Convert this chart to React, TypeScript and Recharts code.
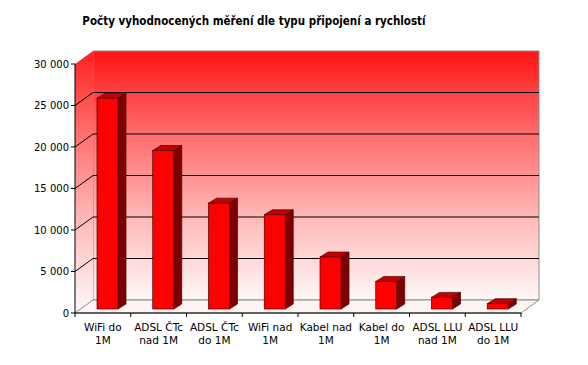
import { BarChart, Bar, XAxis, YAxis, CartesianGrid } from 'recharts';

const categories = [
  'WiFi do\n1M',
  'ADSL ČTc\nnad 1M',
  'ADSL ČTc\ndo 1M',
  'WiFi nad\n1M',
  'Kabel nad\n1M',
  'Kabel do\n1M',
  'ADSL LLU\nnad 1M',
  'ADSL LLU\ndo 1M',
];
const counts = [25400, 19100, 12750, 11350, 6260, 3320, 1400, 640];
const yTicks = [0, 5000, 10000, 15000, 20000, 25000, 30000];

const data = categories.map((name, i) => ({ name, count: counts[i] }));

// layout / 3d look
const W = 588;
const H = 365;
const LEFT = 75;
const RIGHT = 67;
const TOP = 64;
const BOTTOM = 52;
const PLOT_W = W - LEFT - RIGHT;
const BAND = PLOT_W / categories.length;
const DX = 18; // wall depth
const DY = -13;
const FX = 5; // bar front offset into depth
const FY = -4;
const BX = 8; // bar depth
const BY = -5;
const FONT = '"DejaVu Sans", Verdana, sans-serif';

const fmt = (v: number) => String(v).replace(/\B(?=(\d{3})+(?!\d))/g, ' ');

// walls + floor, drawn once from the grid's plot area
const Walls = (p: any) => {
  if (p.index !== 0) return <g key={p.key} />;
  const x = p.x ?? LEFT;
  const y = p.y ?? TOP;
  const w = p.width ?? PLOT_W;
  const h = p.height ?? H - TOP - BOTTOM;
  const b = y + h;
  return (
    <g key={p.key}>
      <defs>
        <linearGradient id="wallGrad" x1="0" y1="0" x2="0" y2="1">
          <stop offset="0%" stopColor="#ff1414" />
          <stop offset="30%" stopColor="#ff6464" />
          <stop offset="65%" stopColor="#ffb4b4" />
          <stop offset="100%" stopColor="#fff8f8" />
        </linearGradient>
        <linearGradient id="sideGrad" x1="0" y1="0" x2="0" y2="1">
          <stop offset="0%" stopColor="#ff2020" />
          <stop offset="30%" stopColor="#ff6c6c" />
          <stop offset="65%" stopColor="#ffbaba" />
          <stop offset="100%" stopColor="#fff8f8" />
        </linearGradient>
      </defs>
      <polygon
        points={`${x + DX},${y + DY} ${x + w + DX},${y + DY} ${x + w + DX},${b + DY} ${x + DX},${b + DY}`}
        fill="url(#wallGrad)"
        stroke="#8c8c8c"
        strokeWidth={1}
      />
      <polygon
        points={`${x},${y} ${x + DX},${y + DY} ${x + DX},${b + DY} ${x},${b}`}
        fill="url(#sideGrad)"
        stroke="none"
      />
      <polygon
        points={`${x},${b} ${x + DX},${b + DY} ${x + w + DX},${b + DY} ${x + w},${b}`}
        fill="#fdf3f3"
        stroke="#8c8c8c"
        strokeWidth={1}
      />
    </g>
  );
};

const GridLine = (p: any) => {
  const y = p.y ?? TOP;
  const h = p.height ?? H - TOP - BOTTOM;
  if (Math.abs(p.y1 - y) < 1 || Math.abs(p.y1 - (y + h)) < 1) return <g key={p.key} />;
  return (
    <g key={p.key}>
      <line x1={p.x1} y1={p.y1} x2={p.x1 + DX} y2={p.y1 + DY} stroke="#000" strokeWidth={1} />
      <line x1={p.x1 + DX} y1={p.y1 + DY} x2={p.x2 + DX} y2={p.y1 + DY} stroke="#000" strokeWidth={1} />
    </g>
  );
};

const Bar3D = (p: any) => {
  const { x, y, width, height } = p;
  if (!height || height <= 0) return null;
  const fx = x + FX;
  const fy = y + FY;
  const stroke = '#4a0000';
  return (
    <g>
      <polygon
        points={`${fx + width},${fy} ${fx + width + BX},${fy + BY} ${fx + width + BX},${fy + BY + height} ${fx + width},${fy + height}`}
        fill="#7d0000"
        stroke={stroke}
        strokeWidth={0.7}
      />
      <polygon
        points={`${fx},${fy} ${fx + BX},${fy + BY} ${fx + width + BX},${fy + BY} ${fx + width},${fy}`}
        fill="#c40000"
        stroke={stroke}
        strokeWidth={0.7}
      />
      <rect x={fx} y={fy} width={width} height={height} fill="#ff0000" stroke={stroke} strokeWidth={0.7} />
    </g>
  );
};

const XTick = (p: any) => {
  const { x, y, payload, index } = p;
  const lines = String(payload.value).split('\n');
  const left = x - BAND / 2;
  return (
    <g>
      <line x1={left} y1={y} x2={left} y2={y + 4} stroke="#000" />
      {index === categories.length - 1 && (
        <line x1={x + BAND / 2} y1={y} x2={x + BAND / 2} y2={y + 4} stroke="#000" />
      )}
      {lines.map((t, i) => (
        <text key={i} x={x} y={y + 18 + i * 13} textAnchor="middle" fill="#000" fontSize={10.5} fontFamily={FONT}>
          {t}
        </text>
      ))}
    </g>
  );
};

export default function App() {
  return (
    <div style={{ position: 'absolute', left: 0, top: 0, width: W, height: H, background: '#fff' }}>
      <div
        style={{
          position: 'absolute',
          left: 0,
          width: 508,
          top: 14,
          textAlign: 'center',
          fontFamily: '"DejaVu Sans Condensed", "DejaVu Sans", sans-serif',
          fontWeight: 'bold',
          fontSize: 11.5,
          color: '#000',
        }}
      >
        Počty vyhodnocených měření dle typu připojení a rychlostí
      </div>
      <BarChart width={W} height={H} data={data} margin={{ top: TOP, right: RIGHT, left: 0, bottom: BOTTOM - 40 }} barSize={21}>
        <CartesianGrid horizontal={Walls} vertical={false} />
        <CartesianGrid horizontal={GridLine} vertical={false} />
        <XAxis
          dataKey="name"
          height={40}
          interval={0}
          tickLine={false}
          tickSize={0}
          tickMargin={0}
          axisLine={{ stroke: '#000' }}
          tick={<XTick />}
        />
        <YAxis
          width={LEFT}
          domain={[0, 30000]}
          ticks={yTicks}
          tickFormatter={fmt}
          tickSize={4}
          axisLine={{ stroke: '#000' }}
          tickLine={{ stroke: '#000' }}
          tick={{ fill: '#000', fontSize: 10, fontFamily: FONT }}
        />
        <Bar dataKey="count" shape={<Bar3D />} isAnimationActive={false} />
      </BarChart>
    </div>
  );
}
